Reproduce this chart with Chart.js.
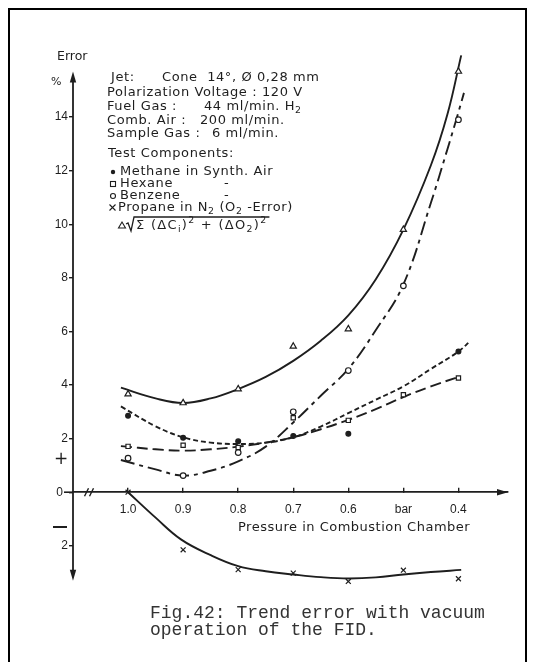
<!DOCTYPE html>
<html lang="en">
<head>
<meta charset="UTF-8" />
<meta name="viewport" content="width=device-width, initial-scale=1" />
<title>Fig.42: Trend error with vacuum operation of the FID</title>
<script src="https://cdn.jsdelivr.net/npm/chart.js@4.4.0/dist/chart.umd.min.js"></script>
<style>
  html, body { margin: 0; background: #fff; }
  #page { position: relative; width: 534px; height: 662px; overflow: hidden; }
  #page canvas { position: absolute; left: 0; top: 0; }
  #frame { position: absolute; left: 8px; top: 8px; width: 519px; height: 700px;
           border: 2px solid #000; border-bottom: 0; box-sizing: border-box; pointer-events: none; }
</style>
</head>
<body>
<div id="page">
  <canvas id="fid" width="534" height="662"></canvas>
  <div id="frame"></div>
</div>

<script>
  // x axis: pressure in combustion chamber (bar), drawn reversed
  const pressureTicks  = [1.0, 0.9, 0.8, 0.7, 0.6, 0.5, 0.4];
  const pressureLabels = ['1.0', '0.9', '0.8', '0.7', '0.6', 'bar', '0.4'];
  // y axis: error in %, the one below zero is written without sign
  const errorTicks  = [-2, 0, 2, 4, 6, 8, 10, 12, 14];
  const errorLabels = ['2', '', '2', '4', '6', '8', '10', '12', '14'];

  // measured points (at the pressure ticks)
  const methanePts = [2.85, 2.03, 1.9, 2.1, 2.18, null, 5.25];
  const hexanePts  = [1.71, 1.75, 1.67, 2.78, 2.68, 3.64, 4.26];
  const benzenePts = [1.27, 0.62, 1.48, 3.0, 4.54, 7.7, 13.9];
  const propanePts = [0, -2.15, -2.89, -3.02, -3.33, -2.91, -3.23];
  const totalPts   = [3.66, 3.33, 3.85, 5.44, 6.09, 9.8, 15.7];

  // hand drawn trend lines
  const totalCurveP = [1.013, 0.95, 0.9, 0.85, 0.8, 0.75, 0.7, 0.65, 0.6, 0.55, 0.5, 0.45, 0.42, 0.395];
  const totalCurve  = [3.9, 3.5, 3.33, 3.5, 3.85, 4.3, 4.9, 5.65, 6.6, 7.95, 9.8, 12.2, 14.1, 16.3];

  const benzeneCurveP = [1.013, 0.95, 0.9, 0.85, 0.8, 0.75, 0.7, 0.65, 0.6, 0.55, 0.5, 0.45, 0.42, 0.404, 0.39];
  const benzeneCurve  = [1.2, 0.85, 0.62, 0.8, 1.15, 1.7, 2.6, 3.6, 4.6, 6.05, 7.75, 10.8, 12.8, 13.9, 14.9];

  const methaneCurveP = [1.013, 0.95, 0.9, 0.85, 0.8, 0.75, 0.7, 0.65, 0.6, 0.55, 0.5, 0.45, 0.4, 0.378];
  const methaneCurve  = [3.2, 2.46, 2.05, 1.85, 1.8, 1.85, 2.05, 2.45, 2.95, 3.45, 3.95, 4.6, 5.25, 5.65];

  const hexaneCurveP = [1.013, 0.95, 0.9, 0.85, 0.8, 0.75, 0.7, 0.65, 0.6, 0.55, 0.5, 0.45, 0.4];
  const hexaneCurve  = [1.72, 1.6, 1.55, 1.6, 1.7, 1.85, 2.05, 2.35, 2.7, 3.1, 3.55, 3.95, 4.3];

  const propaneCurveP = [1.0, 0.95, 0.904, 0.85, 0.8, 0.75, 0.7, 0.65, 0.6, 0.55, 0.5, 0.45, 0.395];
  const propaneCurve  = [0, -0.95, -1.76, -2.35, -2.76, -2.95, -3.07, -3.17, -3.22, -3.18, -3.07, -2.98, -2.9];

  const ink = '#1e1e1e';
  const sans = '"DejaVu Sans", sans-serif';

  const xy = (ps, vs) => ps.map((p, i) => ({ x: p, y: vs[i] })).filter(d => d.y !== null);

  function curve(ps, vs, dash) {
    return {
      data: xy(ps, vs), showLine: true, pointRadius: 0, borderColor: ink, borderWidth: 1.9,
      borderDash: dash, tension: 0.4, fill: false, order: 1
    };
  }
  function marks(vs, style, r, filled) {
    return {
      data: xy(pressureTicks, vs), showLine: false, pointStyle: style, pointRadius: r,
      borderColor: ink, backgroundColor: filled ? ink : '#fff', pointBorderWidth: 1.2, order: 0
    };
  }

  function arrow(ctx, x, y, dx, dy) {
    const L = 11, W = 3.2;
    const bx = x - dx * L, by = y - dy * L;
    ctx.beginPath();
    ctx.moveTo(x, y);
    ctx.lineTo(bx - dy * W, by + dx * W);
    ctx.lineTo(bx + dy * W, by - dx * W);
    ctx.closePath();
    ctx.fill();
  }

  // text with sub/superscripts: parts = [[text, ''|'sub'|'sup'], ...]
  function runs(ctx, x, y, parts, size) {
    for (const [s, k] of parts) {
      const fs = k ? size * 0.72 : size;
      ctx.font = fs + 'px ' + sans;
      const dy = k === 'sub' ? size * 0.3 : k === 'sup' ? -size * 0.38 : 0;
      ctx.fillText(s, x, y + dy);
      x += ctx.measureText(s).width;
    }
    ctx.font = size + 'px ' + sans;
    return x;
  }

  const decor = {
    id: 'decor',
    afterDraw(chart) {
      const { ctx, chartArea: a, scales: { x, y } } = chart;
      const x0 = a.left, y0 = y.getPixelForValue(0);
      ctx.save();
      ctx.strokeStyle = ink; ctx.fillStyle = ink; ctx.lineWidth = 1.8;

      // y axis with arrows both ways
      const yTop = y.getPixelForValue(15.7), yBot = y.getPixelForValue(-3.3);
      ctx.beginPath(); ctx.moveTo(x0, yTop + 8); ctx.lineTo(x0, yBot - 8); ctx.stroke();
      arrow(ctx, x0, yTop, 0, -1);
      arrow(ctx, x0, yBot, 0, 1);
      // x axis arrow and break mark
      arrow(ctx, a.right, y0, 1, 0);
      const xb = x.getPixelForValue(1.07);
      ctx.lineWidth = 1.4;
      ctx.beginPath();
      ctx.moveTo(xb - 5, y0 + 4); ctx.lineTo(xb - 1, y0 - 4);
      ctx.moveTo(xb, y0 + 4); ctx.lineTo(xb + 4, y0 - 4);
      ctx.stroke();
      // zero label with its lead line
      ctx.lineWidth = 1.6;
      ctx.beginPath(); ctx.moveTo(64, y0); ctx.lineTo(x0, y0); ctx.stroke();
      ctx.textBaseline = 'middle';
      ctx.textAlign = 'right';
      ctx.font = '12px "Liberation Sans", sans-serif';
      ctx.fillText('0', 63, y0);

      ctx.textAlign = 'left';
      ctx.font = '12.5px ' + sans;
      ctx.fillText('Error', 57, 57);
      ctx.font = '11px ' + sans;
      ctx.fillText('%', 51, 82);
      ctx.font = '17px ' + sans;
      ctx.fillText('+', 54, 460);
      ctx.fillRect(53, 526, 14, 2);

      // axis title
      ctx.letterSpacing = '0.5px';
      ctx.font = '13px ' + sans;
      ctx.fillText('Pressure in Combustion Chamber', 238, 528);

      // operating conditions
      const fs = 13;
      ctx.letterSpacing = '0.6px';
      ctx.font = fs + 'px ' + sans;
      ctx.fillText('Jet:', 111, 78);
      ctx.fillText('Cone  14°, Ø 0,28 mm', 162, 78);
      ctx.fillText('Polarization Voltage : 120 V', 107, 93);
      ctx.fillText('Fuel Gas :', 107, 107);
      runs(ctx, 204, 107, [['44 ml/min. H', ''], ['2', 'sub']], fs);
      ctx.fillText('Comb. Air :', 107, 121);
      ctx.fillText('200 ml/min.', 200, 121);
      ctx.fillText('Sample Gas :', 107, 134);
      ctx.fillText('6 ml/min.', 212, 134);
      ctx.fillText('Test Components:', 108, 154);

      // component key
      ctx.fillText('Methane in Synth. Air', 120, 172);
      ctx.fillText('Hexane', 120, 184);
      ctx.fillText('-', 224, 184);
      ctx.fillText('Benzene', 120, 196);
      ctx.fillText('-', 224, 196);
      runs(ctx, 118, 208, [['Propane in N', ''], ['2', 'sub'], [' (O', ''], ['2', 'sub'], [' -Error)', '']], fs);

      ctx.lineWidth = 1.1;
      ctx.beginPath(); ctx.arc(113, 172, 2.2, 0, 2 * Math.PI); ctx.fill();
      ctx.strokeRect(110.5, 181.5, 5, 5);
      ctx.beginPath(); ctx.arc(113, 196, 2.5, 0, 2 * Math.PI); ctx.stroke();
      ctx.beginPath();
      ctx.moveTo(109.5, 204.5); ctx.lineTo(115.5, 210.5);
      ctx.moveTo(115.5, 204.5); ctx.lineTo(109.5, 210.5);
      ctx.stroke();
      // triangle + root expression
      ctx.beginPath(); ctx.moveTo(122, 222); ctx.lineTo(125.5, 228); ctx.lineTo(118.5, 228); ctx.closePath(); ctx.stroke();
      ctx.letterSpacing = '1.3px';
      const end = runs(ctx, 136, 226, [['Σ (ΔC', ''], ['i', 'sub'], [')', ''], ['2', 'sup'], [' + (ΔO', ''], ['2', 'sub'], [')', ''], ['2', 'sup']], fs);
      ctx.lineWidth = 1.3;
      ctx.beginPath(); ctx.moveTo(126, 224); ctx.lineTo(128, 223); ctx.lineTo(131, 231); ctx.lineTo(134, 217); ctx.lineTo(end + 2, 217); ctx.stroke();

      // caption
      ctx.letterSpacing = '0px';
      ctx.fillStyle = '#333';
      ctx.font = '18px "Liberation Mono", monospace';
      ctx.fillText('Fig.42: Trend error with vacuum', 150, 613);
      ctx.fillText('operation of the FID.', 150, 630);
      ctx.restore();
    }
  };

  new Chart(document.getElementById('fid'), {
    type: 'line',
    data: {
      datasets: [
        marks(methanePts, 'circle', 2.4, true),
        marks(hexanePts, 'rect', 3, false),
        marks(benzenePts, 'circle', 2.8, false),
        marks(propanePts, 'crossRot', 3.5, false),
        marks(totalPts, 'triangle', 3.6, false),
        curve(totalCurveP, totalCurve, []),
        curve(benzeneCurveP, benzeneCurve, [14, 5, 4, 5]),
        curve(methaneCurveP, methaneCurve, [5, 3]),
        curve(hexaneCurveP, hexaneCurve, [11, 5]),
        curve(propaneCurveP, propaneCurve, [])
      ]
    },
    options: {
      responsive: false,
      animation: false,
      layout: { padding: { left: 33, right: 26, top: 50, bottom: 76 } },
      plugins: { legend: { display: false }, tooltip: { enabled: false } },
      scales: {
        x: {
          type: 'linear', reverse: true, min: 0.31, max: 1.1,
          position: { y: 0 },
          afterBuildTicks: s => { s.ticks = pressureTicks.map(v => ({ value: v })); },
          ticks: {
            color: ink, padding: 15, maxRotation: 0,
            font: { family: '"Liberation Sans", sans-serif', size: 12 },
            callback: v => pressureLabels[pressureTicks.indexOf(v)]
          },
          grid: { drawOnChartArea: false, tickLength: -5, color: ink, lineWidth: 1.4 },
          border: { display: true, color: ink, width: 1.8 }
        },
        y: {
          type: 'linear', min: -3.5, max: 16.5, position: 'left',
          afterFit: s => { s.width = 40; },
          afterBuildTicks: s => { s.ticks = errorTicks.map(v => ({ value: v })); },
          ticks: {
            color: ink, padding: 1,
            font: { family: '"Liberation Sans", sans-serif', size: 12 },
            callback: v => errorLabels[errorTicks.indexOf(v)]
          },
          grid: { drawOnChartArea: false, tickLength: 4, color: ink, lineWidth: 1.4 },
          border: { display: false }
        }
      }
    },
    plugins: [decor]
  });
</script>
</body>
</html>
